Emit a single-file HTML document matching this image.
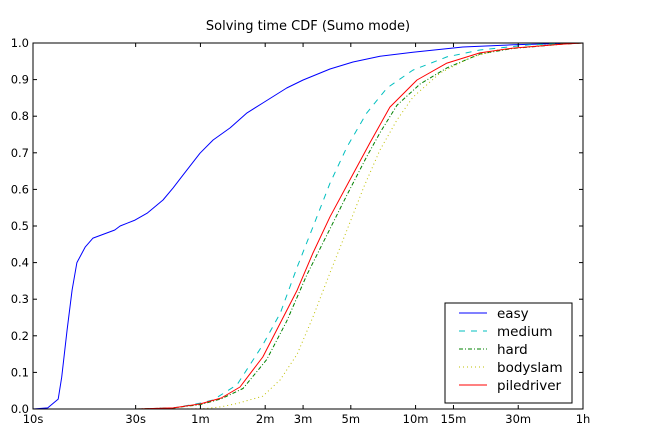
<!DOCTYPE html>
<html><head><meta charset="utf-8"><style>
body{margin:0;background:#fff}
svg{display:block;font-family:"DejaVu Sans","Liberation Sans",sans-serif}
</style></head><body>
<svg id="chart" width="648" height="432" viewBox="0 0 648 432">
<rect x="0" y="0" width="648" height="432" fill="#fff"/>
<text x="308" y="30" font-size="13" text-anchor="middle">Solving time CDF (Sumo mode)</text>
<g id="plot"></g>
</svg>
<script>
const xTickSeconds=[10,30,60,120,180,300,600,900,1800,3600];
const xTickLabels=["10s","30s","1m","2m","3m","5m","10m","15m","30m","1h"];
const yTicks=[0,0.1,0.2,0.3,0.4,0.5,0.6,0.7,0.8,0.9,1.0];
const seriesNames=["easy","medium","hard","bodyslam","piledriver"];
const easyT=[10,11.7,13.1,13.6,14.4,15.2,16,17.5,19,24,25.4,29.8,33.9,40.2,44.8,49.8,59.7,68.7,82.4,98.8,117,151,180,240,307,410,583,995,1700,3600];
const easyY=[0,0.003,0.027,0.087,0.216,0.325,0.40,0.443,0.467,0.489,0.5,0.516,0.535,0.571,0.604,0.639,0.699,0.735,0.768,0.809,0.836,0.877,0.899,0.929,0.948,0.964,0.975,0.989,0.995,1];
const mediumT=[30,45,60,68.7,88.7,117,141,169,200,240,288,356,442,583,839,1194,2040,3600];
const mediumY=[0,0.003,0.016,0.025,0.066,0.175,0.262,0.388,0.497,0.617,0.716,0.809,0.877,0.926,0.962,0.981,0.995,1];
const hardT=[30,45,60,75,94.6,122,151,187,232,288,356,410,492,630,839,1194,1700,2906,3600];
const hardY=[0,0.003,0.012,0.028,0.056,0.135,0.24,0.365,0.475,0.585,0.69,0.755,0.83,0.888,0.932,0.97,0.985,0.997,1];
const bodyslamT=[50,63,75,88.7,117,141,169,200,240,288,345,410,492,583,780,1072,1439,2455,3600];
const bodyslamY=[0,0.001,0.006,0.015,0.035,0.08,0.15,0.251,0.372,0.489,0.607,0.708,0.79,0.852,0.918,0.959,0.981,0.995,1];
const piledriverT=[30,45,60,75,91.6,117,141,169,200,240,297,368,456,609,839,1194,1700,2906,3600];
const piledriverY=[0,0.003,0.014,0.03,0.06,0.142,0.235,0.325,0.426,0.525,0.626,0.727,0.825,0.899,0.945,0.973,0.986,0.997,1];

const L=33,R=583,T=43,B=409;
const xs=t=>L+Math.log10(t/10)/Math.log10(360)*(R-L);
const ys=v=>B-v*(B-T);
const NS="http://www.w3.org/2000/svg";
const g=document.getElementById('plot');
function mk(tag,attrs){const e=document.createElementNS(NS,tag);for(const k in attrs)e.setAttribute(k,attrs[k]);g.appendChild(e);return e;}
const styles=[
 {t:easyT,y:easyY,c:"#0000ff",d:""},
 {t:mediumT,y:mediumY,c:"#00bfbf",d:"6,6"},
 {t:hardT,y:hardY,c:"#008000",d:"4,2,1,2"},
 {t:bodyslamT,y:bodyslamY,c:"#bfbf00",d:"1,3"},
 {t:piledriverT,y:piledriverY,c:"#ff0000",d:""}];
styles.forEach((s,i)=>{
 const pts=s.t.map((t,j)=>xs(t).toFixed(1)+","+ys(s.y[j]).toFixed(1)).join(" ");
 const p=mk('polyline',{points:pts,fill:"none",stroke:s.c,"stroke-width":1,"stroke-linejoin":"round"});
 if(s.d)p.setAttribute('stroke-dasharray',s.d);
 
 
});
const frame=mk('rect',{x:L,y:T,width:R-L,height:B-T,fill:"none",stroke:"#000","stroke-width":1});


yTicks.forEach(v=>{
 const y=ys(v);
 mk('line',{x1:L,x2:L+4,y1:y,y2:y,stroke:"#000"});
 mk('line',{x1:R-4,x2:R,y1:y,y2:y,stroke:"#000"});
 const tx=mk('text',{x:L-4,y:y+4,"font-size":11.5,"text-anchor":"end"});
 tx.textContent=v.toFixed(1);
 
 
});
xTickSeconds.forEach((t,i)=>{
 const x=xs(t);
 mk('line',{x1:x,x2:x,y1:B,y2:B-4,stroke:"#000"});
 mk('line',{x1:x,x2:x,y1:T,y2:T+4,stroke:"#000"});
 const tx=mk('text',{x:x,y:B+14,"font-size":11.5,"text-anchor":"middle"});
 tx.textContent=xTickLabels[i];
 
 
});
const lg=mk('rect',{x:445,y:303,width:127,height:100,fill:"#fff",stroke:"#000"});


const ly=[313,331,349,367,385];
styles.forEach((s,i)=>{
 const ln=mk('line',{x1:459,x2:487,y1:ly[i],y2:ly[i],stroke:s.c});
 if(s.d)ln.setAttribute('stroke-dasharray',s.d);
 
 
 const tx=mk('text',{x:497,y:ly[i]+5,"font-size":13.5});
 tx.textContent=seriesNames[i];
 
 
});
</script>
</body></html>
